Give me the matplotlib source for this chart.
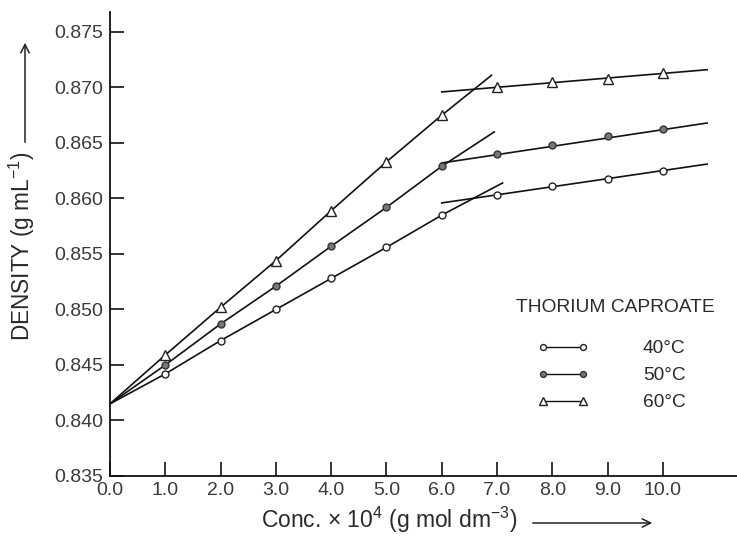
import matplotlib
matplotlib.use("Agg")
import matplotlib.pyplot as plt
from matplotlib.lines import Line2D
from matplotlib.patches import FancyArrowPatch

plt.rcParams['font.family'] = ['Liberation Sans', 'DejaVu Sans']
plt.rcParams['mathtext.fontset'] = 'custom'
plt.rcParams['mathtext.rm'] = 'Liberation Sans'
plt.rcParams['mathtext.it'] = 'Liberation Sans:italic'

# ---- data ----
conc = [1.0, 2.0, 3.0, 4.0, 5.0, 6.0, 7.0, 8.0, 9.0, 10.0]
d40 = [0.8442, 0.8472, 0.8500, 0.8528, 0.8556, 0.8585, 0.8603, 0.8611, 0.8618, 0.8625]
d50 = [0.8450, 0.8487, 0.8521, 0.8557, 0.8592, 0.8629, 0.8640, 0.8648, 0.8656, 0.8663]
d60 = [0.8459, 0.8502, 0.8544, 0.8589, 0.8633, 0.8675, 0.8700, 0.8705, 0.8708, 0.8713]
solvent_density = 0.8415          # common intercept at c = 0
n_low = 6                          # points on the steep branch (1.0 .. 6.0)

# extrapolated straight lines (x, y endpoints)
rise_end_x = [7.1, 6.95, 6.9]
rise_end_y = [0.8614, 0.8660, 0.8711]
plateau_x = [6.0, 10.8]
plateau_y = [[0.8596, 0.8631], [0.8632, 0.8668], [0.8696, 0.8716]]

legend_title = 'THORIUM CAPROATE'
labels = ['40°C', '50°C', '60°C']
series = [d40, d50, d60]
x_ticks = [0.0, 1.0, 2.0, 3.0, 4.0, 5.0, 6.0, 7.0, 8.0, 9.0, 10.0]
y_ticks = [0.835, 0.840, 0.845, 0.850, 0.855, 0.860, 0.865, 0.870, 0.875]

styles = [
    dict(marker='o', markersize=5, markerfacecolor='white', markeredgecolor='#222222', markeredgewidth=1.0),
    dict(marker='o', markersize=5, markerfacecolor='#777777', markeredgecolor='#333333', markeredgewidth=1.0),
    dict(marker='^', markersize=7, markerfacecolor='white', markeredgecolor='#222222', markeredgewidth=1.0),
]

TXT = '#2a2a2a'
W, H = 737, 540
fig = plt.figure(figsize=(7.37, 5.40), dpi=100)
ax = fig.add_axes([110 / W, 1 - 476 / H, 627 / W, (476 - 12) / H])

for i, d in enumerate(series):
    xs = [0.0] + conc[:n_low] + [rise_end_x[i]]
    ys = [solvent_density] + d[:n_low] + [rise_end_y[i]]
    ax.plot(xs, ys, color='#111111', lw=1.2, zorder=2)
    ax.plot(plateau_x, plateau_y[i], color='#111111', lw=1.2, zorder=2)
    ax.plot(conc, d, linestyle='none', zorder=3, **styles[i])

ax.set_xlim(0, 11.34)
ax.set_ylim(0.835, 0.8768)
ax.set_xticks(x_ticks)
ax.set_xticklabels([f'{v:.1f}' for v in x_ticks])
ax.set_yticks(y_ticks)
ax.set_yticklabels([f'{v:.3f}' for v in y_ticks])
for s in ['top', 'right']:
    ax.spines[s].set_visible(False)
for s in ['left', 'bottom']:
    ax.spines[s].set_linewidth(1.3)
    ax.spines[s].set_color('#111111')
ax.tick_params(axis='both', direction='in', length=10, width=1.2, color='#111111',
               labelsize=14, labelcolor='#3a3a3a')
ax.tick_params(axis='x', pad=4)
ax.tick_params(axis='y', pad=5)

# legend (title as separate text, entries indented)
ax.text((516 - 110) / 627, (476 - 308) / 464, legend_title, transform=ax.transAxes,
        ha='left', va='center', fontsize=13.8, color=TXT)
handles = [Line2D([0], [0], color='#111111', lw=1.0, **st) for st in styles]
for h in handles:
    h.set_markersize(h.get_markersize() * 0.85)
leg = ax.legend(handles, labels, loc='upper left',
                bbox_to_anchor=((537.5 - 110) / 627, (476 - 340) / 464),
                frameon=False, numpoints=2, fontsize=13.8, handlelength=2.7,
                handletextpad=2.8, labelspacing=0.5, borderaxespad=0, borderpad=0)
for t in leg.get_texts():
    t.set_color(TXT)

# axis labels with arrows
fig.text(22 / W, 1 - 246 / H, 'DENSITY (g mL$^{-1}$)', rotation=90,
         ha='center', va='center', fontsize=16.3, color=TXT)
fig.text(389 / W, 1 - 520 / H, 'Conc. × 10$^4$ (g mol dm$^{-3}$)',
         ha='center', va='center', fontsize=16.5, color=TXT)
fig.patches.append(FancyArrowPatch(
    (25 / W, 1 - 145 / H), (25 / W, 1 - 40 / H), transform=fig.transFigure,
    arrowstyle='->,head_length=6,head_width=3', lw=1.1, color='#222222'))
fig.patches.append(FancyArrowPatch(
    (530 / W, 1 - 523 / H), (655 / W, 1 - 523 / H), transform=fig.transFigure,
    arrowstyle='->,head_length=6,head_width=3', lw=1.1, color='#222222'))

fig.savefig('out.png', dpi=100)
